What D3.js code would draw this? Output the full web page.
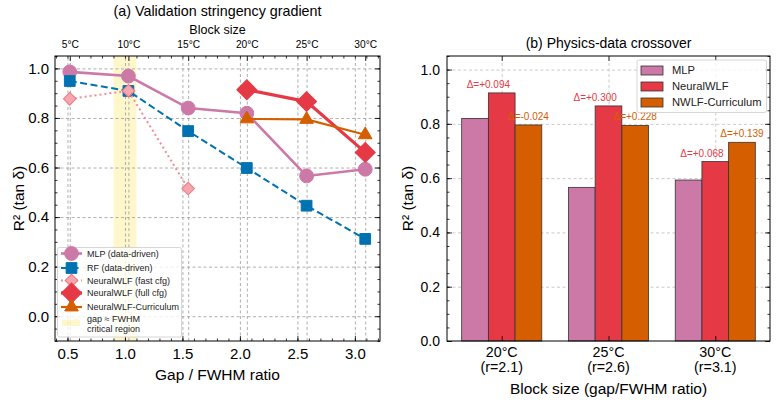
<!DOCTYPE html>
<html>
<head>
<meta charset="utf-8">
<script src="https://cdn.jsdelivr.net/npm/d3@7"></script>
<style>
  body { margin: 0; background: #fff; }
  svg { font-family: "Liberation Sans", Arial, sans-serif; }
  .grid line { stroke: #9a9a9a; stroke-width: 0.8; stroke-dasharray: 3,2.5; }
  .gridb line { stroke: #bdbdbd; stroke-width: 0.8; stroke-dasharray: 3,2.5; }
  .grid path, .gridb path { display: none; }
  .tk path { display: none; }
  .tk line { stroke: #000; stroke-width: 0.8; }
</style>
</head>
<body>
<svg width="780" height="404"></svg>
<script>
// ---- data: panel (a) validation stringency gradient
var blocks = ["5°C", "10°C", "15°C", "20°C", "25°C", "30°C"];
var ratios = [0.52, 1.03, 1.55, 2.06, 2.58, 3.09];
var mlpR2 = [0.986, 0.969, 0.840, 0.819, 0.566, 0.593];
var rfR2 = [0.949, 0.909, 0.747, 0.598, 0.446, 0.312];
var fastR2 = [0.877, 0.910, 0.515];        // 5, 10, 15 °C
var fullR2 = [0.914, 0.866, 0.661];        // 20, 25, 30 °C
var currR2 = [0.796, 0.794, 0.732];        // 20, 25, 30 °C
var criticalBand = [0.9, 1.1];

// ---- data: panel (b) physics-data crossover
var barBlocks = ["20°C", "25°C", "30°C"];
var barRatios = ["(r=2.1)", "(r=2.6)", "(r=3.1)"];
var barSeries = ["MLP", "NeuralWLF", "NWLF-Curriculum"];
var barMLP = [0.820, 0.566, 0.593];
var barNWLF = [0.914, 0.866, 0.661];
var barCurr = [0.796, 0.794, 0.732];

var C = {mlp: "#CC79A7", rf: "#0072B2", full: "#E63946", curr: "#D55E00",
         fastLine: "#F28C96", fastFill: "#F5A6AE", fastEdge: "#EC7984"};

var svg = d3.select("svg");

function fmt(v) { return (v >= 0 ? "+" : "") + v.toFixed(3); }

/**********************
 Panel (a)
**********************/
var A = {l: 55, r: 380, t: 56, b: 341};
var xA = d3.scaleLinear().domain([0.3915, 3.2185]).range([A.l, A.r]);
var yA = d3.scaleLinear().domain([-0.1, 1.05]).range([A.b, A.t]);
var gA = svg.append("g");

// critical region band
gA.append("rect")
    .attr("x", xA(criticalBand[0]))
    .attr("width", xA(criticalBand[1]) - xA(criticalBand[0]))
    .attr("y", A.t).attr("height", A.b - A.t)
    .attr("fill", "#FFD700").attr("fill-opacity", 0.2);

// grid
gA.append("g").attr("class", "grid")
    .attr("transform", "translate(0," + A.b + ")")
    .call(d3.axisBottom(xA).tickValues([0.5, 1, 1.5, 2, 2.5, 3]).tickSize(-(A.b - A.t)).tickFormat(""));
gA.append("g").attr("class", "grid")
    .attr("transform", "translate(0," + A.b + ")")
    .call(d3.axisBottom(xA).tickValues(ratios).tickSize(-(A.b - A.t)).tickFormat(""));
gA.append("g").attr("class", "grid")
    .attr("transform", "translate(" + A.l + ",0)")
    .call(d3.axisLeft(yA).tickValues([0, 0.2, 0.4, 0.6, 0.8, 1.0]).tickSize(-(A.r - A.l)).tickFormat(""));

var line = d3.line().x(function(d) { return xA(d[0]); }).y(function(d) { return yA(d[1]); });
function pairs(xs, ys) { return ys.map(function(v, i) { return [xs[i], v]; }); }

var series = [
  {name: "MLP (data-driven)", pts: pairs(ratios, mlpR2), stroke: C.mlp, w: 2.6, dash: null,
   sym: d3.symbolCircle, size: 150, fill: C.mlp, edge: C.mlp, rot: 0},
  {name: "RF (data-driven)", pts: pairs(ratios, rfR2), stroke: C.rf, w: 2, dash: "7,3.5",
   sym: d3.symbolSquare, size: 115, fill: C.rf, edge: C.rf, rot: 0},
  {name: "NeuralWLF (fast cfg)", pts: pairs(ratios.slice(0, 3), fastR2), stroke: C.fastLine, w: 2, dash: "2,3",
   sym: d3.symbolSquare, size: 80, fill: C.fastFill, edge: C.fastEdge, rot: 45},
  {name: "NeuralWLF (full cfg)", pts: pairs(ratios.slice(3), fullR2), stroke: C.full, w: 3.2, dash: null,
   sym: d3.symbolSquare, size: 200, fill: C.full, edge: C.full, rot: 45},
  {name: "NeuralWLF-Curriculum", pts: pairs(ratios.slice(3), currR2), stroke: C.curr, w: 2.2, dash: null,
   sym: d3.symbolTriangle, size: 80, fill: C.curr, edge: C.curr, rot: 0}
];

series.forEach(function(s) {
  gA.append("path").datum(s.pts)
      .attr("d", line).attr("fill", "none")
      .attr("stroke", s.stroke).attr("stroke-width", s.w)
      .attr("stroke-dasharray", s.dash);
  gA.selectAll(null).data(s.pts).enter().append("path")
      .attr("d", d3.symbol().type(s.sym).size(s.size))
      .attr("transform", function(d) { return "translate(" + [xA(d[0]), yA(d[1])] + ") rotate(" + s.rot + ")"; })
      .attr("fill", s.fill).attr("stroke", s.edge).attr("stroke-width", 1);
});

// frame + ticks
gA.append("rect").attr("x", A.l).attr("y", A.t).attr("width", A.r - A.l).attr("height", A.b - A.t)
    .attr("fill", "none").attr("stroke", "#000").attr("stroke-width", 1);

var yMinor = d3.range(-0.1, 1.051, 0.05).map(function(v) { return +v.toFixed(2); });
var xMinor = d3.range(0.4, 3.21, 0.1).map(function(v) { return +v.toFixed(1); });

var axL = gA.append("g").attr("class", "tk").attr("transform", "translate(" + A.l + ",0)")
    .call(d3.axisLeft(yA).tickValues([0, 0.2, 0.4, 0.6, 0.8, 1.0]).tickSize(-5).tickPadding(6).tickFormat(d3.format(".1f")));
gA.append("g").attr("class", "tk").attr("transform", "translate(" + A.l + ",0)")
    .call(d3.axisLeft(yA).tickValues(yMinor).tickSize(-2.5).tickFormat(""));
gA.append("g").attr("class", "tk").attr("transform", "translate(" + A.r + ",0)")
    .call(d3.axisRight(yA).tickValues([0, 0.2, 0.4, 0.6, 0.8, 1.0]).tickSize(-5).tickFormat(""));
gA.append("g").attr("class", "tk").attr("transform", "translate(" + A.r + ",0)")
    .call(d3.axisRight(yA).tickValues(yMinor).tickSize(-2.5).tickFormat(""));
var axB = gA.append("g").attr("class", "tk").attr("transform", "translate(0," + A.b + ")")
    .call(d3.axisBottom(xA).tickValues([0.5, 1, 1.5, 2, 2.5, 3]).tickSize(-5).tickPadding(7).tickFormat(d3.format(".1f")));
gA.append("g").attr("class", "tk").attr("transform", "translate(0," + A.b + ")")
    .call(d3.axisBottom(xA).tickValues(xMinor).tickSize(-2.5).tickFormat(""));
var axT = gA.append("g").attr("class", "tk").attr("transform", "translate(0," + A.t + ")")
    .call(d3.axisTop(xA).tickValues(ratios).tickSize(-5).tickPadding(8)
      .tickFormat(function(d, i) { return blocks[i]; }));
gA.append("g").attr("class", "tk").attr("transform", "translate(0," + A.t + ")")
    .call(d3.axisTop(xA).tickValues(xMinor).tickSize(-2.5).tickFormat(""));

axL.selectAll("text").attr("font-size", 15).attr("fill", "#000");
axB.selectAll("text").attr("font-size", 15).attr("fill", "#000");
axT.selectAll("text").attr("font-size", 10.2).attr("fill", "#000");
svg.selectAll(".tk").attr("font-family", null);

gA.append("text").attr("x", (A.l + A.r) / 2).attr("y", 15.5).attr("text-anchor", "middle")
    .attr("font-size", 14.3).text("(a) Validation stringency gradient");
gA.append("text").attr("x", (A.l + A.r) / 2).attr("y", 33.5).attr("text-anchor", "middle")
    .attr("font-size", 12.5).text("Block size");
gA.append("text").attr("x", (A.l + A.r) / 2).attr("y", 379.5).attr("text-anchor", "middle")
    .attr("font-size", 15.5).text("Gap / FWHM ratio");
gA.append("text").attr("transform", "translate(24," + (A.t + A.b) / 2 + ") rotate(-90)")
    .attr("text-anchor", "middle").attr("font-size", 15.5).text("R² (tan δ)");

// legend (a)
var legA = gA.append("g");
legA.append("rect").attr("x", 57.5).attr("y", 247.5).attr("width", 124).attr("height", 89.5)
    .attr("rx", 2).attr("fill", "#fff").attr("fill-opacity", 0.8)
    .attr("stroke", "#cccccc").attr("stroke-width", 0.8);
var legRowsA = [253.5, 268, 280.5, 293, 307];
series.forEach(function(s, i) {
  var yy = legRowsA[i];
  legA.append("line").attr("x1", 61).attr("x2", 82).attr("y1", yy).attr("y2", yy)
      .attr("stroke", s.stroke).attr("stroke-width", s.w).attr("stroke-dasharray", s.dash);
  legA.append("path").attr("d", d3.symbol().type(s.sym).size(s.size))
      .attr("transform", "translate(71.5," + yy + ") rotate(" + s.rot + ")")
      .attr("fill", s.fill).attr("stroke", s.edge).attr("stroke-width", 1);
  legA.append("text").attr("x", 87).attr("y", yy).attr("dy", "0.35em")
      .attr("font-size", 9).attr("fill", "#222").text(s.name);
});
legA.append("rect").attr("x", 62).attr("y", 319.5).attr("width", 18).attr("height", 6.5)
    .attr("fill", "#FFD700").attr("fill-opacity", 0.2);
legA.append("text").attr("x", 87).attr("y", 322).attr("font-size", 9).attr("fill", "#222").text("gap ≈ FWHM");
legA.append("text").attr("x", 87).attr("y", 331.5).attr("font-size", 9).attr("fill", "#222").text("critical region");

/**********************
 Panel (b)
**********************/
var B = {l: 447, r: 770, t: 56, b: 341};
var xB = d3.scaleLinear().domain([-0.5125, 2.5125]).range([B.l, B.r]);
var yB = d3.scaleLinear().domain([0, 1.05]).range([B.b, B.t]);
var bw = 0.25;
var gB = svg.append("g");

gB.append("g").attr("class", "gridb").attr("transform", "translate(0," + B.b + ")")
    .call(d3.axisBottom(xB).tickValues([0, 1, 2]).tickSize(-(B.b - B.t)).tickFormat(""));
gB.append("g").attr("class", "gridb").attr("transform", "translate(" + B.l + ",0)")
    .call(d3.axisLeft(yB).tickValues([0.2, 0.4, 0.6, 0.8, 1.0]).tickSize(-(B.r - B.l)).tickFormat(""));

var barData = [];
[barMLP, barNWLF, barCurr].forEach(function(vals, k) {
  vals.forEach(function(v, i) { barData.push({i: i, k: k, v: v}); });
});
var barColors = [C.mlp, C.full, C.curr];

gB.selectAll(".bar").data(barData).enter().append("rect")
    .attr("class", "bar")
    .attr("x", function(d) { return xB(d.i + (d.k - 1) * bw - bw / 2); })
    .attr("width", xB(bw) - xB(0))
    .attr("y", function(d) { return yB(d.v); })
    .attr("height", function(d) { return yB(0) - yB(d.v); })
    .attr("fill", function(d) { return barColors[d.k]; })
    .attr("stroke", "#333").attr("stroke-width", 0.8);

// delta annotations vs MLP
barNWLF.forEach(function(v, i) {
  gB.append("text").attr("x", xB(i - bw / 2)).attr("y", yB(v) - 5)
      .attr("text-anchor", "middle").attr("font-size", 10).attr("fill", C.full)
      .text("Δ=" + fmt(v - barMLP[i]));
});
barCurr.forEach(function(v, i) {
  gB.append("text").attr("x", xB(i + bw)).attr("y", yB(v) - 5)
      .attr("text-anchor", "middle").attr("font-size", 10).attr("fill", C.curr)
      .text("Δ=" + fmt(v - barMLP[i]));
});

gB.append("rect").attr("x", B.l).attr("y", B.t).attr("width", B.r - B.l).attr("height", B.b - B.t)
    .attr("fill", "none").attr("stroke", "#000").attr("stroke-width", 1);

var yMinorB = d3.range(0, 1.051, 0.05).map(function(v) { return +v.toFixed(2); });
var axLB = gB.append("g").attr("class", "tk").attr("transform", "translate(" + B.l + ",0)")
    .call(d3.axisLeft(yB).tickValues([0, 0.2, 0.4, 0.6, 0.8, 1.0]).tickSize(-5).tickPadding(7).tickFormat(d3.format(".1f")));
gB.append("g").attr("class", "tk").attr("transform", "translate(" + B.l + ",0)")
    .call(d3.axisLeft(yB).tickValues(yMinorB).tickSize(-2.5).tickFormat(""));
gB.append("g").attr("class", "tk").attr("transform", "translate(" + B.r + ",0)")
    .call(d3.axisRight(yB).tickValues([0, 0.2, 0.4, 0.6, 0.8, 1.0]).tickSize(-5).tickFormat(""));
gB.append("g").attr("class", "tk").attr("transform", "translate(" + B.r + ",0)")
    .call(d3.axisRight(yB).tickValues(yMinorB).tickSize(-2.5).tickFormat(""));
gB.append("g").attr("class", "tk").attr("transform", "translate(0," + B.b + ")")
    .call(d3.axisBottom(xB).tickValues([0, 1, 2]).tickSize(-5).tickFormat(""));
gB.append("g").attr("class", "tk").attr("transform", "translate(0," + B.t + ")")
    .call(d3.axisTop(xB).tickValues([0, 1, 2]).tickSize(-5).tickFormat(""));
axLB.selectAll("text").attr("font-size", 14).attr("fill", "#000");
svg.selectAll(".tk").attr("font-family", null);

barBlocks.forEach(function(b, i) {
  gB.append("text").attr("x", xB(i)).attr("y", 357).attr("text-anchor", "middle")
      .attr("font-size", 14.3).text(b);
  gB.append("text").attr("x", xB(i)).attr("y", 372).attr("text-anchor", "middle")
      .attr("font-size", 14.3).text(barRatios[i]);
});

gB.append("text").attr("x", (B.l + B.r) / 2).attr("y", 47.5).attr("text-anchor", "middle")
    .attr("font-size", 14).text("(b) Physics-data crossover");
gB.append("text").attr("x", (B.l + B.r) / 2).attr("y", 394).attr("text-anchor", "middle")
    .attr("font-size", 15.5).text("Block size (gap/FWHM ratio)");
gB.append("text").attr("transform", "translate(413," + (B.t + B.b) / 2 + ") rotate(-90)")
    .attr("text-anchor", "middle").attr("font-size", 15.5).text("R² (tan δ)");

// legend (b)
var legB = gB.append("g");
legB.append("rect").attr("x", 637).attr("y", 60).attr("width", 129.5).attr("height", 52.5)
    .attr("rx", 2).attr("fill", "#fff").attr("fill-opacity", 0.8)
    .attr("stroke", "#cccccc").attr("stroke-width", 0.8);
barSeries.forEach(function(name, k) {
  var yy = 70.5 + k * 16;
  legB.append("rect").attr("x", 641).attr("y", yy - 4.5).attr("width", 22).attr("height", 9)
      .attr("fill", barColors[k]).attr("stroke", "#333").attr("stroke-width", 0.8);
  legB.append("text").attr("x", 672).attr("y", yy).attr("dy", "0.35em")
      .attr("font-size", 11.2).attr("fill", "#222").text(name);
});
</script>
</body>
</html>
